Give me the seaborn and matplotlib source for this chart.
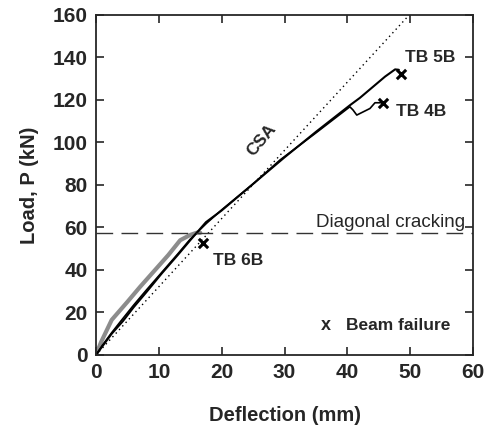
import matplotlib
matplotlib.use("Agg")
import matplotlib.pyplot as plt
import seaborn as sns
import pandas as pd

sns.set_theme(style="ticks")
plt.rcParams['font.family'] = ['Liberation Sans', 'DejaVu Sans']

# data
tb4b_x = [0, 1, 2.5, 4.1, 6, 8, 10.8, 13, 15, 17.6, 20, 25, 29.3, 35, 40.4, 40.9, 41.5, 43.6, 44.4, 45.3]
tb4b_y = [0, 4.5, 10.5, 16.5, 23.5, 30.5, 40, 47.5, 54.5, 62, 68.3, 80.5, 91.8, 104.5, 116.8, 115.3, 112.9, 116, 118.7, 118.7]
tb5b_x = [0, 1, 2.5, 4.3, 6, 8, 10.5, 13, 15, 17.5, 20, 25, 30, 35, 40.4, 42, 44, 46, 47.6, 48.2]
tb5b_y = [0, 4, 10, 16, 22.5, 29.5, 38.5, 47, 54, 62.5, 68, 80.5, 93, 105, 117.5, 121, 126, 131, 134.4, 134.2]
tb6b_x = [0, 0.8, 2.5, 5, 7, 9.4, 11.5, 13.4, 15, 16.1, 16.6]
tb6b_y = [0, 6, 16.5, 25, 32, 40, 47, 54, 56.5, 57.6, 57.5]
csa_x = [0, 50]
csa_y = [0, 160.5]
crack_load = 57.3
fail_x = [48.5, 45.7, 17.0]
fail_y = [132.2, 118.7, 52.5]

fig = plt.figure(figsize=(4.86, 4.28), dpi=100)
ax = fig.add_axes([0.1975, 0.1706, 0.7758, 0.7944])

df4 = pd.DataFrame({'x': tb4b_x, 'y': tb4b_y})
df5 = pd.DataFrame({'x': tb5b_x, 'y': tb5b_y})
df6 = pd.DataFrame({'x': tb6b_x, 'y': tb6b_y})
dfc = pd.DataFrame({'x': csa_x, 'y': csa_y})

sns.lineplot(data=dfc, x='x', y='y', ax=ax, sort=False, color='black', lw=1.0,
             linestyle=(0, (1, 2.5)), estimator=None)
sns.lineplot(data=df6, x='x', y='y', ax=ax, sort=False, color='#8c8c8c', lw=3.0, estimator=None)
sns.lineplot(data=df4, x='x', y='y', ax=ax, sort=False, color='black', lw=1.2, estimator=None)
sns.lineplot(data=df5, x='x', y='y', ax=ax, sort=False, color='black', lw=1.5, estimator=None)
ax.axhline(crack_load, color='#333333', lw=1.0, dashes=(12, 6))
sns.scatterplot(x=fail_x, y=fail_y, ax=ax, marker='x', s=45, color='black', linewidth=2.2, zorder=5)

ax.set_xlim(0, 60)
ax.set_ylim(0, 160)
ax.set_xticks(range(0, 61, 10))
ax.set_yticks(range(0, 161, 20))
ax.tick_params(direction='in', length=6, width=1.2, top=True, right=True,
               labelsize=15, pad=6)
for lab in ax.get_xticklabels() + ax.get_yticklabels():
    lab.set_fontweight('bold')
for s in ax.spines.values():
    s.set_linewidth(1.3)
    s.set_visible(True)

ax.set_xlabel('Deflection (mm)', fontsize=14.5, fontweight='bold', labelpad=17)
ax.set_ylabel('Load, P (kN)', fontsize=14.5, fontweight='bold', labelpad=10)

ax.text(49.2, 140, 'TB 5B', fontsize=12.5, fontweight='bold', va='center', ha='left')
ax.text(47.8, 114.5, 'TB 4B', fontsize=12.5, fontweight='bold', va='center', ha='left')
ax.text(18.6, 44.5, 'TB 6B', fontsize=12.5, fontweight='bold', va='center', ha='left')
ax.text(26.4, 101, 'CSA', fontsize=12.5, fontweight='bold', va='center', ha='center', rotation=50)
ax.text(58.8, 62.5, 'Diagonal cracking', fontsize=13.5, va='center', ha='right')
ax.text(36.6, 14, 'x', fontsize=13, fontweight='bold', va='center', ha='center')
ax.text(39.8, 14, 'Beam failure', fontsize=12.5, fontweight='bold', va='center', ha='left')

fig.savefig('out.png', dpi=100)
